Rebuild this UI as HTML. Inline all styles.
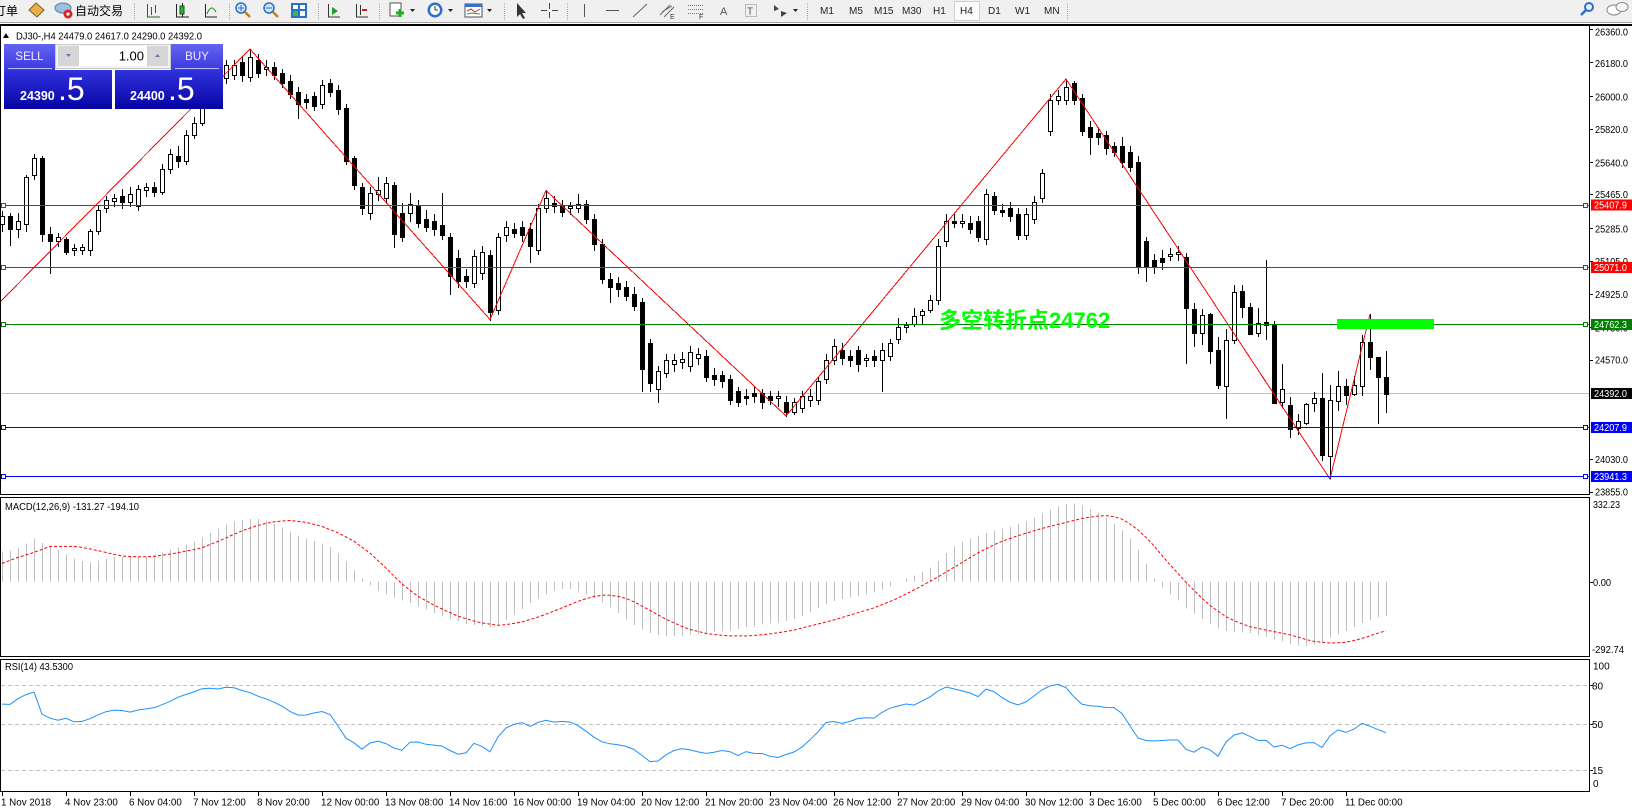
<!DOCTYPE html>
<html><head><meta charset="utf-8"><title>DJ30-,H4</title>
<style>
html,body{margin:0;padding:0;background:#fff}
body{width:1632px;height:810px;overflow:hidden}
svg{display:block}
text{font-family:"Liberation Sans","Noto Sans CJK SC",sans-serif}
</style></head><body>
<svg id="c" width="1632" height="810" viewBox="0 0 1632 810" xmlns="http://www.w3.org/2000/svg">
<defs>
 <clipPath id="cm"><rect x="1" y="26" width="1588" height="468"/></clipPath>
 <clipPath id="cd"><rect x="1" y="498" width="1588" height="158"/></clipPath>
 <clipPath id="cr"><rect x="1" y="660" width="1588" height="131"/></clipPath>
 <linearGradient id="gb" x1="0" y1="0" x2="0" y2="1"><stop offset="0" stop-color="#6464f2"/><stop offset="1" stop-color="#3a3ade"/></linearGradient>
 <linearGradient id="gp" x1="0" y1="0" x2="0" y2="1"><stop offset="0" stop-color="#3232de"/><stop offset="1" stop-color="#0404a4"/></linearGradient>
</defs>

<!-- toolbar -->
<rect x="0" y="0" width="1632" height="22" fill="#f0f0f0"/>
<line x1="0" y1="22.5" x2="1632" y2="22.5" stroke="#a0a0a0"/>
<rect x="0" y="24" width="1632" height="2" fill="#000"/>
<text x="-6" y="15" font-size="12" fill="#000">订单</text>
<polygon points="29,10 36,3 44,10 37,17" fill="#e6b04a" stroke="#8a5a10"/>
<ellipse cx="63" cy="8" rx="8" ry="5" fill="#9cc0e0" stroke="#5a7fa8"/>
<circle cx="68" cy="14" r="4.5" fill="#e02020"/><circle cx="68" cy="14" r="1.6" fill="#fff"/>
<text x="75" y="15" font-size="12" fill="#000">自动交易</text>
<g stroke="#a8a8a8" stroke-dasharray="1 1">
<line x1="134.5" y1="3" x2="134.5" y2="20"/><line x1="229.5" y1="3" x2="229.5" y2="20"/><line x1="318.5" y1="3" x2="318.5" y2="20"/><line x1="379.5" y1="3" x2="379.5" y2="20"/><line x1="504.5" y1="3" x2="504.5" y2="20"/><line x1="567.5" y1="3" x2="567.5" y2="20"/><line x1="807.5" y1="3" x2="807.5" y2="20"/><line x1="1067.5" y1="3" x2="1067.5" y2="20"/>
</g>
<g fill="none" stroke="#222" shape-rendering="crispEdges">
<path d="M147.5 4V17H160M151.5 7V15M155.5 5V13" stroke="#1a6e1a"/>
<path d="M176.5 4V17H189"/><rect x="180" y="6" width="4" height="8" fill="#2cb82c" stroke="#185018"/><path d="M182.5 3V6M182.5 14V17"/>
<path d="M205.5 4V17H217"/>
</g>
<path d="M207 14Q211 3 216 12" fill="none" stroke="#1f8f1f"/>
<circle cx="241" cy="8" r="5" fill="#cfe6ff" stroke="#2a70c0" stroke-width="1.5"/><path d="M238 8H244M241 5V11" stroke="#2a70c0"/><line x1="245" y1="12" x2="250" y2="17" stroke="#c08020" stroke-width="2.5"/>
<circle cx="269" cy="8" r="5" fill="#cfe6ff" stroke="#2a70c0" stroke-width="1.5"/><path d="M266 8H272" stroke="#2a70c0"/><line x1="273" y1="12" x2="278" y2="17" stroke="#c08020" stroke-width="2.5"/>
<rect x="291" y="3" width="16" height="15" fill="#2a6fd0"/><rect x="293" y="5" width="5" height="4" fill="#fff"/><rect x="300" y="5" width="5" height="4" fill="#fff"/><rect x="293" y="11" width="5" height="5" fill="#30c030"/><rect x="300" y="11" width="5" height="5" fill="#fff"/>
<g fill="none" stroke="#333" shape-rendering="crispEdges"><path d="M328.5 4V17H340"/><path d="M356.5 4V17H368M360.5 5V15"/></g>
<polygon points="332,7 338,11 332,15" fill="#20a020"/><path d="M362 10H367" stroke="#d02020" stroke-width="2"/>
<rect x="390" y="3" width="11" height="13" fill="#fff" stroke="#555"/><path d="M396 13H404M400 9V17" stroke="#20b020" stroke-width="3"/>
<polygon points="410,9 415,9 412.5,12" fill="#222"/>
<circle cx="435" cy="10" r="7.5" fill="#2c6fd0"/><circle cx="435" cy="10" r="5" fill="#fff"/><path d="M435 10V6M435 10H438" stroke="#333"/>
<polygon points="448,9 453,9 450.5,12" fill="#222"/>
<rect x="465" y="4" width="17" height="13" fill="#fff" stroke="#456"/><rect x="465" y="4" width="17" height="3" fill="#3a6ec8"/><path d="M467 11L471 9L475 12L480 9" stroke="#d03030" fill="none"/><path d="M467 14L472 13L480 14" stroke="#20a020" fill="none"/>
<polygon points="487,9 492,9 489.5,12" fill="#222"/>
<polygon points="517,3 517,17 520,14 523,19 525,18 522,13 526,13" fill="#333"/>
<path d="M549.5 3V9M549.5 12V18M541 10.5H547M552 10.5H558" stroke="#444" shape-rendering="crispEdges"/>
<g stroke="#555" fill="none" shape-rendering="crispEdges"><path d="M584.5 4V17"/><path d="M606 10.5H619"/></g>
<path d="M633 17L647 4" stroke="#666"/>
<path d="M660 15L670 5M664 17L674 7M662 12L672 6" stroke="#666"/><text x="670" y="19" font-size="7" fill="#333">E</text>
<path d="M688 5.5H703M688 9.5H703M688 13.5H703" stroke="#777" stroke-dasharray="1 1"/><text x="699" y="19" font-size="7" fill="#333">F</text>
<text x="720" y="15" font-size="11" fill="#555">A</text>
<rect x="745.5" y="4.5" width="11" height="12" fill="none" stroke="#888" stroke-dasharray="1 1"/><text x="747" y="14.5" font-size="10" fill="#555">T</text>
<polygon points="774,5 779,9 774,11" fill="#444"/><polygon points="781,11 787,13 781,17" fill="#444"/>
<polygon points="793,9 798,9 795.5,12" fill="#222"/>
<rect x="954.5" y="1.5" width="25" height="19" fill="#fbfbfb" stroke="#cfcfcf"/>
<g font-size="10" fill="#222">
<text x="820" y="14">M1</text><text x="849" y="14">M5</text><text x="874" y="14">M15</text><text x="902" y="14">M30</text><text x="933" y="14">H1</text><text x="960" y="14">H4</text><text x="988" y="14">D1</text><text x="1015" y="14">W1</text><text x="1044" y="14">MN</text>
</g>
<circle cx="1589" cy="7" r="4" fill="none" stroke="#2a6fd0" stroke-width="2"/><line x1="1586" y1="10" x2="1581" y2="15" stroke="#2a6fd0" stroke-width="2.5"/>
<ellipse cx="1614" cy="10" rx="7" ry="5" fill="#fff" stroke="#888"/><ellipse cx="1622" cy="7" rx="6" ry="4.5" fill="#f4f4f4" stroke="#888"/>

<!-- panel borders -->
<g stroke="#000" shape-rendering="crispEdges" fill="none">
<path d="M0.5 24V494.5M0.5 497V656.5M0.5 659V791.5"/>
<path d="M1589.5 24V495M1589.5 497V657M1589.5 659V792"/>
<path d="M0 494.5H1590M0 497.5H1590M0 656.5H1590M0 659.5H1590M0 791.5H1590"/>
</g>

<!-- main chart content -->
<g clip-path="url(#cm)" shape-rendering="crispEdges">
 <line x1="1" y1="393.5" x2="1589" y2="393.5" stroke="#c0c0c0"/>
 <path id="wk" d="" stroke="#000" fill="none"/>
 <g id="bb" fill="#000"></g>
 <g id="wb" fill="#fff" stroke="#000"></g>
 <polyline points="0,302 250,49 490,319.5 546,190.5 786,416 1066,79 1330,479 1370,314" fill="none" stroke="#ff0000"/>
 <line x1="1" y1="205.5" x2="1589" y2="205.5" stroke="#ff0000"/>
 <line x1="1" y1="267.5" x2="1589" y2="267.5" stroke="#ff0000"/>
 <line x1="1" y1="324.5" x2="1589" y2="324.5" stroke="#008000"/>
 <line x1="1" y1="427.5" x2="1589" y2="427.5" stroke="#0000ff"/>
 <line x1="1" y1="476.5" x2="1589" y2="476.5" stroke="#0000ff"/>
 <g fill="#fff">
 <rect x="1.5" y="203.5" width="4" height="4" stroke="#ff0000"/><rect x="1583.5" y="203.5" width="4" height="4" stroke="#ff0000"/>
 <rect x="1.5" y="265.5" width="4" height="4" stroke="#ff0000"/><rect x="1583.5" y="265.5" width="4" height="4" stroke="#ff0000"/>
 <rect x="1.5" y="322.5" width="4" height="4" stroke="#008000"/><rect x="1583.5" y="322.5" width="4" height="4" stroke="#008000"/>
 <rect x="1.5" y="425.5" width="4" height="4" stroke="#0000ff"/><rect x="1583.5" y="425.5" width="4" height="4" stroke="#0000ff"/>
 <rect x="1.5" y="474.5" width="4" height="4" stroke="#0000ff"/><rect x="1583.5" y="474.5" width="4" height="4" stroke="#0000ff"/>
 </g>
 <rect x="1337" y="319" width="97" height="10" fill="#00ff00"/>
</g>
<text x="939" y="328" font-size="22" font-weight="bold" fill="#00ff00" style='font-family:"Liberation Sans","Noto Sans CJK SC",sans-serif'>多空转折点24762</text>

<!-- header text -->
<polygon points="3,38 6,33 9,38" fill="#000"/>
<text x="16" y="39.5" font-size="10" fill="#000" textLength="186" lengthAdjust="spacingAndGlyphs">DJ30-,H4  24479.0 24617.0 24290.0 24392.0</text>

<!-- price axis -->
<path d="M1590 29.5H1593M1590 62.5H1593M1590 96.5H1593M1590 129.5H1593M1590 162.5H1593M1590 194.5H1593M1590 228.5H1593M1590 261.5H1593M1590 294.5H1593M1590 327.5H1593M1590 360.5H1593M1590 459.5H1593M1590 492.5H1593" stroke="#000" shape-rendering="crispEdges"/>
<g font-size="10" fill="#000">
<text x="1595" y="35.3" textLength="33" lengthAdjust="spacingAndGlyphs">26360.0</text>
<text x="1595" y="66.9" textLength="33" lengthAdjust="spacingAndGlyphs">26180.0</text>
<text x="1595" y="100.3" textLength="33" lengthAdjust="spacingAndGlyphs">26000.0</text>
<text x="1595" y="132.9" textLength="33" lengthAdjust="spacingAndGlyphs">25820.0</text>
<text x="1595" y="166.3" textLength="33" lengthAdjust="spacingAndGlyphs">25640.0</text>
<text x="1595" y="197.9" textLength="33" lengthAdjust="spacingAndGlyphs">25465.0</text>
<text x="1595" y="232.3" textLength="33" lengthAdjust="spacingAndGlyphs">25285.0</text>
<text x="1595" y="265.1" textLength="33" lengthAdjust="spacingAndGlyphs">25105.0</text>
<text x="1595" y="297.9" textLength="33" lengthAdjust="spacingAndGlyphs">24925.0</text>
<text x="1595" y="331.6" textLength="33" lengthAdjust="spacingAndGlyphs">24750.0</text>
<text x="1595" y="363.6" textLength="33" lengthAdjust="spacingAndGlyphs">24570.0</text>
<text x="1595" y="462.9" textLength="33" lengthAdjust="spacingAndGlyphs">24030.0</text>
<text x="1595" y="495.6" textLength="33" lengthAdjust="spacingAndGlyphs">23855.0</text>
</g>
<rect x="1591" y="199.5" width="41" height="11" fill="#ff0000"/>
<rect x="1591" y="262" width="41" height="11" fill="#ff0000"/>
<rect x="1591" y="319" width="41" height="11" fill="#008000"/>
<rect x="1591" y="388" width="41" height="11" fill="#000000"/>
<rect x="1591" y="422" width="41" height="11" fill="#0000ff"/>
<rect x="1591" y="471" width="41" height="11" fill="#0000ff"/>
<g font-size="10" fill="#fff">
<text x="1594" y="208.6" textLength="33" lengthAdjust="spacingAndGlyphs">25407.9</text>
<text x="1594" y="271.1" textLength="33" lengthAdjust="spacingAndGlyphs">25071.0</text>
<text x="1594" y="328.1" textLength="33" lengthAdjust="spacingAndGlyphs">24762.3</text>
<text x="1594" y="397.1" textLength="33" lengthAdjust="spacingAndGlyphs">24392.0</text>
<text x="1594" y="431.1" textLength="33" lengthAdjust="spacingAndGlyphs">24207.9</text>
<text x="1594" y="480.1" textLength="33" lengthAdjust="spacingAndGlyphs">23941.3</text>
</g>

<!-- MACD -->
<g clip-path="url(#cd)">
 <path id="mh" d="" stroke="#c0c0c0" fill="none" shape-rendering="crispEdges"/>
 <polyline id="ms" points="" fill="none" stroke="#ff0000" stroke-dasharray="3 2"/>
</g>
<text x="5" y="510.2" font-size="10" fill="#000" textLength="134" lengthAdjust="spacingAndGlyphs">MACD(12,26,9) -131.27 -194.10</text>
<path d="M1590 582.5H1593" stroke="#000" shape-rendering="crispEdges"/>
<g font-size="10" fill="#000">
<text x="1593" y="507.9" textLength="27" lengthAdjust="spacingAndGlyphs">332.23</text>
<text x="1593" y="585.9" textLength="18" lengthAdjust="spacingAndGlyphs">0.00</text>
<text x="1592" y="652.9" textLength="32" lengthAdjust="spacingAndGlyphs">-292.74</text>
</g>

<!-- RSI -->
<g clip-path="url(#cr)">
 <g stroke="#c0c0c0" stroke-dasharray="4 3" shape-rendering="crispEdges">
 <line x1="1" y1="685.5" x2="1589" y2="685.5"/>
 <line x1="1" y1="724.5" x2="1589" y2="724.5"/>
 <line x1="1" y1="770.5" x2="1589" y2="770.5"/>
 </g>
 <polyline id="rs" points="" fill="none" stroke="#1e90ff"/>
</g>
<text x="5" y="669.8" font-size="10" fill="#000" textLength="68" lengthAdjust="spacingAndGlyphs">RSI(14) 43.5300</text>
<path d="M1590 685.5H1593M1590 724.5H1593M1590 770.5H1593" stroke="#000" shape-rendering="crispEdges"/>
<g font-size="10" fill="#000">
<text x="1593" y="669.3">100</text>
<text x="1592" y="689.3">80</text>
<text x="1592" y="727.9">50</text>
<text x="1592" y="773.9">15</text>
<text x="1593" y="786.9">0</text>
</g>

<!-- time axis -->
<path d="M2.5 792V796M66.5 792V796M130.5 792V796M194.5 792V796M258.5 792V796M322.5 792V796M386.5 792V796M450.5 792V796M514.5 792V796M578.5 792V796M642.5 792V796M706.5 792V796M770.5 792V796M834.5 792V796M898.5 792V796M962.5 792V796M1026.5 792V796M1090.5 792V796M1154.5 792V796M1218.5 792V796M1282.5 792V796M1346.5 792V796" stroke="#000" shape-rendering="crispEdges"/>
<g font-size="9.8" fill="#000">
<text x="1" y="805.5">1 Nov 2018</text>
<text x="65" y="805.5">4 Nov 23:00</text>
<text x="129" y="805.5">6 Nov 04:00</text>
<text x="193" y="805.5">7 Nov 12:00</text>
<text x="257" y="805.5">8 Nov 20:00</text>
<text x="321" y="805.5">12 Nov 00:00</text>
<text x="385" y="805.5">13 Nov 08:00</text>
<text x="449" y="805.5">14 Nov 16:00</text>
<text x="513" y="805.5">16 Nov 00:00</text>
<text x="577" y="805.5">19 Nov 04:00</text>
<text x="641" y="805.5">20 Nov 12:00</text>
<text x="705" y="805.5">21 Nov 20:00</text>
<text x="769" y="805.5">23 Nov 04:00</text>
<text x="833" y="805.5">26 Nov 12:00</text>
<text x="897" y="805.5">27 Nov 20:00</text>
<text x="961" y="805.5">29 Nov 04:00</text>
<text x="1025" y="805.5">30 Nov 12:00</text>
<text x="1089" y="805.5">3 Dec 16:00</text>
<text x="1153" y="805.5">5 Dec 00:00</text>
<text x="1217" y="805.5">6 Dec 12:00</text>
<text x="1281" y="805.5">7 Dec 20:00</text>
<text x="1345" y="805.5">11 Dec 00:00</text>
</g>

<!-- one-click trading panel -->
<rect x="4" y="70" width="108" height="39" fill="url(#gp)"/>
<rect x="115" y="70" width="108" height="39" fill="url(#gp)"/>
<rect x="4" y="44" width="51" height="26" fill="url(#gb)"/>
<rect x="171" y="44" width="52" height="26" fill="url(#gb)"/>
<line x1="8" y1="68.5" x2="52" y2="68.5" stroke="#b8b8ff"/>
<line x1="175" y1="68.5" x2="219" y2="68.5" stroke="#b8b8ff"/>
<rect x="55.5" y="44.5" width="115" height="24" fill="#f2f2f2" stroke="#c8c8c8"/>
<rect x="58" y="46" width="21" height="20" fill="#d6d6d6"/>
<rect x="79" y="46" width="68" height="20" fill="#fff"/>
<rect x="147" y="46" width="21" height="20" fill="#d6d6d6"/>
<polygon points="66,54 71,54 68.5,57" fill="#6a7aa8"/>
<polygon points="155,57 160,57 157.5,54" fill="#6a7aa8"/>
<text x="144" y="60.5" font-size="13" fill="#000" text-anchor="end">1.00</text>
<text x="29.5" y="60" font-size="11.5" fill="#f0f0ff" text-anchor="middle">SELL</text>
<text x="197" y="60" font-size="11.5" fill="#f0f0ff" text-anchor="middle">BUY</text>
<text x="20" y="100" font-size="12.5" font-weight="bold" fill="#fff">24390</text>
<text x="58" y="100" font-size="32" fill="#fff">.5</text>
<text x="130" y="100" font-size="12.5" font-weight="bold" fill="#fff">24400</text>
<text x="168" y="100" font-size="32" fill="#fff">.5</text>
</svg>
<script>
(function(){
var K=1.0408;
var P=[[215,208,203,222],[208,220,205,235],[220,212,205,228],[215,170,168,222],[168,152,148,172],[152,225,150,232],[225,232,218,262],[232,228,224,236],[230,242,228,244],[240,238,234,245],
[240,237,234,244],[240,222,220,245],[222,202,198,225],[200,192,188,204],[193,190,186,198],[188,194,182,200],[194,186,180,198],[198,182,178,202],[183,180,176,188],[180,184,175,188],
[184,162,158,186],[162,148,143,166],[150,155,140,160],[155,130,125,158],[130,118,112,133],[118,100,95,120],[100,90,85,104],[90,75,70,95],[75,62,58,80],[72,62,58,76],
[60,72,55,78],[74,55,47,78],[58,70,52,74],[66,64,58,72],[64,72,60,76],[70,80,66,84],[78,90,72,94],[88,100,84,113],[95,98,90,104],[92,102,88,106],
[100,82,77,104],[80,88,76,92],[86,105,82,110],[104,155,100,158],[152,178,150,182],[180,200,176,206],[205,185,180,210],[186,183,170,192],[190,176,170,194],[178,225,175,237],
[205,228,195,232],[205,196,185,212],[198,214,192,218],[210,218,202,222],[212,220,206,226],[216,226,185,230],[228,265,224,282],[248,270,240,276],[265,270,258,276],[272,246,240,276],
[262,242,236,268],[245,300,240,307],[298,228,224,302],[226,218,212,232],[220,224,214,228],[218,226,212,232],[220,236,214,252],[240,200,196,244],[200,190,183,204],[195,198,188,204],
[198,204,192,208],[200,198,194,206],[200,196,186,204],[196,210,192,214],[210,234,206,240],[234,268,230,272],[268,276,262,290],[272,278,266,284],[276,284,270,288],[282,294,276,298],
[290,355,286,376],[330,368,326,376],[374,356,352,386],[358,346,340,362],[350,346,340,356],[348,345,338,354],[352,338,332,356],[344,340,334,350],[342,362,336,366],[360,364,354,370],
[360,366,356,372],[364,384,360,388],[376,386,372,390],[380,382,374,388],[378,380,372,386],[378,386,374,392],[380,384,376,388],[382,380,376,390],[386,396,380,400],[396,386,382,398],
[392,380,376,396],[384,380,374,390],[384,366,362,388],[364,346,340,368],[346,332,326,350],[336,344,330,350],[342,346,336,352],[336,350,332,356],[346,344,340,352],[342,346,336,352],
[346,336,330,376],[342,330,326,346],[326,314,306,330],[314,312,309,319],[311,304,296,313],[303,299,297,311],[298,288,283,300],[288,236,230,292],[232,212,206,236],[212,214,206,218],
[214,212,206,218],[214,220,208,224],[212,228,208,232],[230,186,182,234],[188,202,184,206],[202,204,196,208],[200,208,194,212],[206,226,200,230],[226,206,200,230],[210,194,188,214],
[190,166,162,194],[126,96,90,130],[96,92,86,100],[96,84,76,100],[80,96,78,100],[94,126,90,130],[122,132,116,148],[128,132,124,138],[130,142,126,148],[140,146,136,150],
[140,156,132,160],[146,160,140,164],[156,256,150,262],[232,256,228,270],[250,256,244,262],[248,252,240,258],[246,244,238,250],[244,242,236,250]];
var T=[[256.7,308.3,253,363],[309,333,302.7,346],[333.3,315,309,344],[313.7,350.7,312.7,362.7],[350,385,337,387.7],[385.7,340,329,418],[340,292,285,343],[291,306.7,285,316.7],[307,333.7,302.7,333.7],[333.3,323.3,308,336],
[321.7,325.3,260,339],[324.7,402.7,321,402.7],[401.7,389.3,364,406.7],[405,429.3,396.7,436.7],[428.3,421.3,414,434],[422.7,404,402.7,424.3],[402.7,398.3,391.7,410.7],[398,454.7,373.3,460],[455.7,400.3,385,478.3],[400.7,386,370.7,410],
[386,394.7,379.3,404],[394.3,385,376,395],[385.7,342.3,335,395],[342.3,357.3,314,368.7],[357.3,377.3,356.7,423.3],[377,393.7,351,411.7]];
var bars=P.map(function(a){return a.map(function(v){return v*K;});}).concat(T);
var w='',bl='',wh='';
for(var i=0;i<bars.length;i++){
 var cx=2+8*i,b=bars[i],o=b[0],c=b[1],h=b[2],l=b[3];
 var hi=Math.min(h,o,c),lo=Math.max(l,o,c);
 w+='M'+(cx+0.5)+' '+Math.round(hi)+'V'+(Math.round(lo)+1);
 var t=Math.round(Math.min(o,c)),bt=Math.round(Math.max(o,c));
 if(bt<=t)bt=t+1;
 if(c<o){wh+='<rect x="'+(cx-1.5)+'" y="'+(t+0.5)+'" width="4" height="'+(bt-t)+'"/>';}
 else{bl+='<rect x="'+(cx-2)+'" y="'+t+'" width="5" height="'+(bt-t+1)+'"/>';}
}
document.getElementById('wk').setAttribute('d',w);
document.getElementById('bb').innerHTML=bl;
document.getElementById('wb').innerHTML=wh;

function ip(t,x){
 if(x<=t[0][0])return t[0][1];
 for(var k=1;k<t.length;k++){if(x<=t[k][0]){var a=t[k-1],b=t[k];return a[1]+(b[1]-a[1])*(x-a[0])/(b[0]-a[0]);}}
 return t[t.length-1][1];
}
var H=[[0,530],[9,529],[17,526.5],[24,522.7],[32,517],[39,521],[47,524],[55,528],[63,532],[70,536],[78,539],[86,540],[93,539],[101,537],[109,535],[140,535],[147,534],[155,531],[162,528],[170,526.5],[178,523.6],[185,521],[195,516],[205,510],[215,505],[225,501],[235,499],[245,498],[255,500],[265,504],[275,509],[285,514],[295,518],[305,521],[315,524],[325,532],[335,542],[345,553],[352,560],[360,566],[370,571],[380,575],[390,578],[400,582],[410,586],[420,590],[430,594],[440,597],[450,600],[460,601],[470,603],[480,600],[490,593],[500,586],[510,579],[520,573],[530,568],[540,566],[550,566],[560,570],[570,574],[580,580],[590,586],[600,594],[610,601],[620,607],[630,610],[640,611],[650,611],[660,610],[680,608],[700,606],[720,602],[740,599],[760,596],[770,592],[780,587],[790,582],[800,578],[810,575],[830,572],[850,566],[860,560],[870,556],[880,552],[890,548],[900,540],[910,530],[920,522],[930,518],[950,511],[970,506],[990,500],[1000,494],[1010,489],[1020,485],[1030,483],[1040,486],[1050,490],[1060,496],[1070,503],[1080,511],[1090,522],[1100,540],[1110,558],[1120,568],[1130,575],[1140,585],[1150,592],[1160,598],[1170,604],[1180,607],[1200,608],[1220,613],[1240,619],[1250,621],[1260,620],[1270,617],[1280,612],[1290,608],[1300,603],[1310,598],[1320,594],[1335,591]];
var S=[[0,542],[16,536],[32,531],[48,525],[74,525],[90,528],[115,534],[130,535],[144,535],[160,533],[176,530],[192,527],[210,520],[230,511],[250,504],[265,501],[280,500],[295,502],[310,506],[325,512],[340,520],[355,531],[370,545],[385,560],[400,572],[420,583],[440,592],[460,598],[480,601],[500,598],[520,592],[540,584],[560,576],[575,572],[590,572],[605,576],[620,584],[640,595],[660,604],[680,609],[700,611],[720,611],[740,609],[760,606],[780,601],[800,596],[820,590],[840,584],[860,576],[880,566],[900,555],[920,543],[940,531],[960,521],[980,514],[1000,508],[1020,503],[1040,498],[1060,495],[1075,497],[1090,506],[1105,520],[1120,538],[1140,560],[1160,580],[1180,594],[1200,602],[1220,606],[1240,610],[1260,616],[1280,618],[1295,617],[1310,613],[1325,608],[1335,605]];
var R=[[0,676],[8,678],[16,672],[24,668],[32,663],[40,686],[48,690],[56,692],[64,690],[72,694],[80,693],[88,690],[96,686],[104,683],[112,682],[120,683],[128,685],[136,680],[144,682],[152,678],[160,676],[168,671],[176,668],[184,666],[192,662],[200,661],[210,662],[218,660],[226,661],[234,664],[242,666],[250,670],[258,672],[266,676],[274,680],[282,686],[290,688],[298,686],[306,684],[314,683],[322,692],[330,708],[338,712],[348,720],[355,714],[364,712],[370,714],[379,719],[386,721],[396,711],[408,715],[418,716],[426,717],[437,724],[446,726],[454,714],[461,715],[470,724],[476,711],[485,700],[493,696],[501,694],[509,698],[517,694],[525,692],[533,694],[541,693],[549,694],[557,698],[565,704],[573,710],[581,714],[589,715],[597,716],[605,718],[613,722],[621,730],[629,734],[637,727],[645,722],[653,719],[661,720],[669,722],[677,724],[685,723],[693,721],[701,722],[709,726],[717,722],[725,724],[733,724],[741,727],[749,728],[757,724],[765,722],[773,716],[781,708],[789,700],[797,690],[805,696],[813,694],[821,692],[829,688],[837,692],[845,686],[853,681],[861,679],[869,676],[877,678],[885,674],[893,670],[901,664],[909,660],[917,662],[925,664],[933,666],[941,670],[949,660],[957,666],[965,672],[973,676],[981,678],[989,672],[997,666],[1005,660],[1013,658],[1021,657],[1029,666],[1037,676],[1045,678],[1053,678],[1061,680],[1069,679],[1077,684],[1085,696],[1091,708],[1098,711],[1105,712],[1112,712],[1120,711],[1132,711],[1139,719.6],[1146,723.5],[1155,717.5],[1162,720],[1170,727],[1179,711],[1186,706],[1194,704],[1202,708],[1210,712],[1218,711],[1223,718],[1232,716],[1238,720],[1246,716],[1254,714],[1261,712],[1269,720],[1275,711],[1283,700],[1291,704],[1299,703],[1306,694],[1314,697],[1322,700],[1330,704]];
var hp='',sp=[],rp=[];
for(var j=0;j<174;j++){
 var x=2+8*j,px=x/K;
 var hy=K*ip(H,px);
 hp+='M'+(x+0.5)+' 582V'+hy.toFixed(1);
 sp.push(x+','+(K*ip(S,px)).toFixed(1));
 rp.push(x+','+(K*ip(R,px)).toFixed(1));
}
document.getElementById('mh').setAttribute('d',hp);
document.getElementById('ms').setAttribute('points',sp.join(' '));
document.getElementById('rs').setAttribute('points',rp.join(' '));
})();
</script>
</body></html>
